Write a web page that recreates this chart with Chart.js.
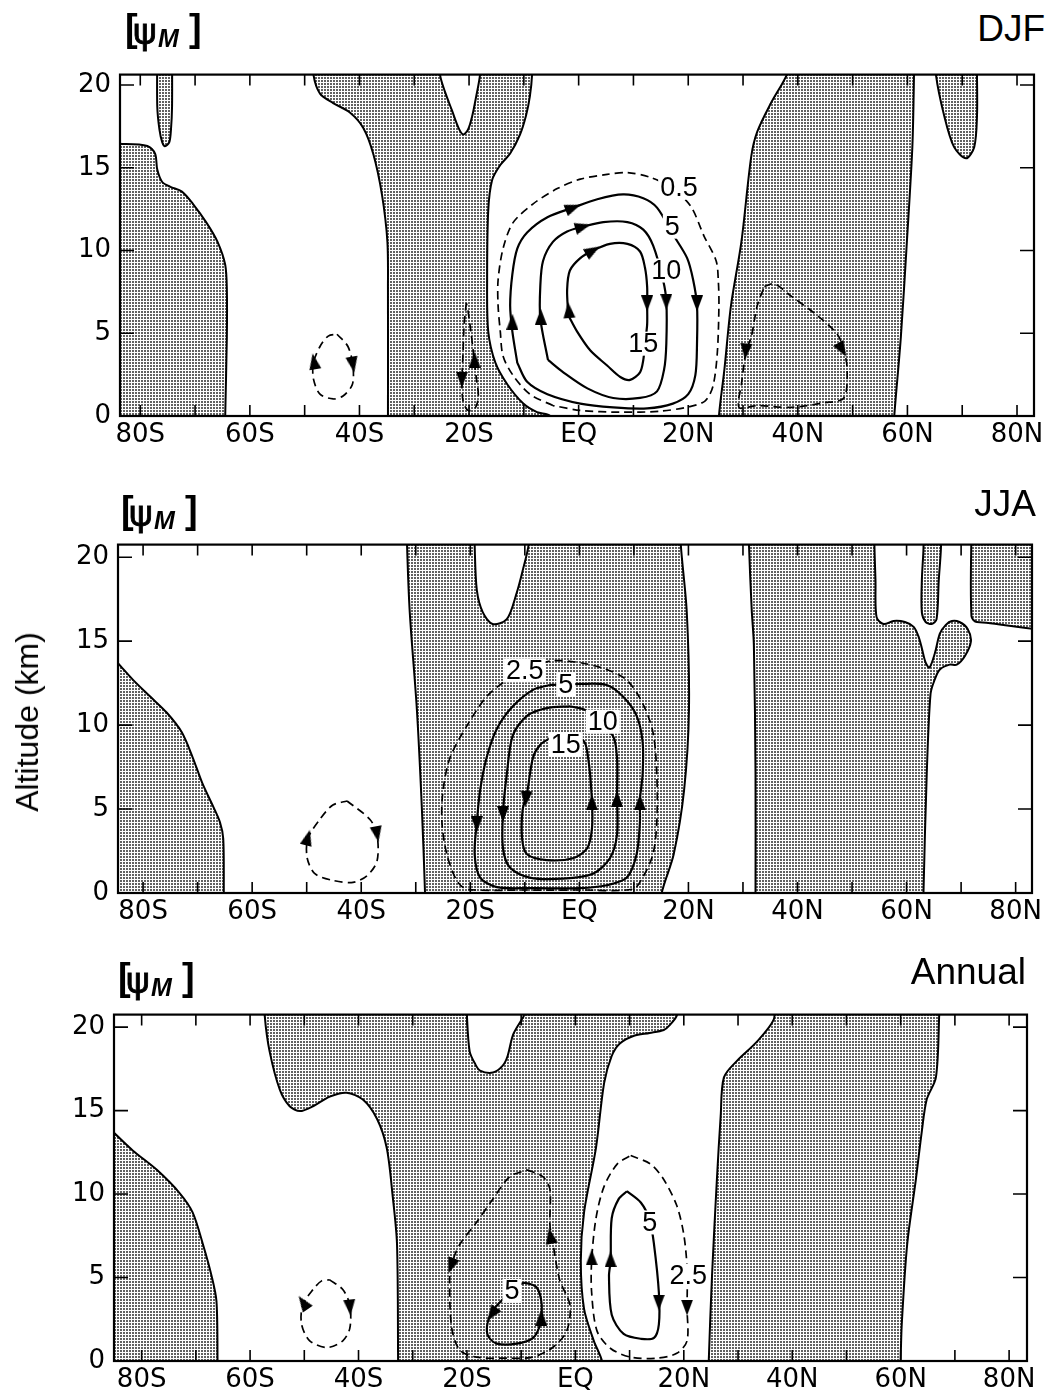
<!DOCTYPE html>
<html><head><meta charset="utf-8">
<script src="https://cdn.jsdelivr.net/npm/chart.js@4.4.1/dist/chart.umd.min.js"></script>
<style>
html,body{margin:0;padding:0;background:#fff;}
body{width:1048px;height:1400px;position:relative;overflow:hidden;font-family:"Liberation Sans",Arial,sans-serif;color:#000;}
canvas{position:absolute;left:0;}
.psi{position:absolute;height:40px;width:80px;z-index:2;}
.psi span{position:absolute;white-space:nowrap;}
.psi .lb{left:0;top:-2px;font-size:38px;line-height:38px;font-weight:bold;}
.psi .g{left:8px;top:3px;font-family:"DejaVu Sans",sans-serif;font-size:36px;line-height:36px;-webkit-text-stroke:0.8px #000;}
.psi .m{left:33px;top:15px;font-size:25px;line-height:25px;font-style:italic;font-weight:bold;}
.psi .rb{left:64px;top:-2px;font-size:38px;line-height:38px;font-weight:bold;}
.ttl{position:absolute;font-size:37px;line-height:37px;white-space:nowrap;z-index:2;}
.ylab{position:absolute;left:27px;top:722px;font-size:32px;line-height:32px;white-space:nowrap;transform:translate(-50%,-50%) rotate(-90deg);z-index:2;}
</style></head>
<body>
<canvas id="c1" width="1048" height="410" style="top:50px"></canvas>
<canvas id="c2" width="1048" height="420" style="top:520px"></canvas>
<canvas id="c3" width="1048" height="410" style="top:990px"></canvas>
<div class="psi" style="left:125px;top:11px"><span class="lb">[</span><span class="g">ψ</span><span class="m">M</span><span class="rb">]</span></div>
<div class="psi" style="left:121px;top:493px"><span class="lb">[</span><span class="g">ψ</span><span class="m">M</span><span class="rb">]</span></div>
<div class="psi" style="left:118px;top:960px"><span class="lb">[</span><span class="g">ψ</span><span class="m">M</span><span class="rb">]</span></div>
<div class="ttl" style="right:3px;top:10px">DJF</div>
<div class="ttl" style="right:12px;top:485px">JJA</div>
<div class="ttl" style="right:22px;top:953px">Annual</div>
<div class="ylab">Altitude (km)</div>
<script>
// ---------- axis ticks ----------
const xTickValues = [-80,-70,-60,-50,-40,-30,-20,-10,0,10,20,30,40,50,60,70,80];
const xTickLabels = ['80S','','60S','','40S','','20S','','EQ','','20N','','40N','','60N','','80N'];
const yTickValues = [0,5,10,15,20];
const yTickLabels = ['0','5','10','15','20'];

// ---------- DJF ----------
const djfShade1 = [[-95,-1],[-95,16.44],[-83.3,16.44],[-78.7,16.32],[-77.3,15.86],[-76.9,14.89],[-76.0,14.14],[-74.5,13.85],[-72.4,13.56],[-70.4,12.82],[-67.9,11.67],[-65.9,10.52],[-64.5,9.14],[-64.2,7.64],[-64.2,4.77],[-64.5,0],[-64.5,-1]];
const djfShade2 = [[-76.9,22],[-76.9,18.7],[-76.5,17.3],[-76.0,16.55],[-75.5,16.3],[-74.7,16.55],[-74.4,17.3],[-74.2,18.7],[-74.2,22]];
const djfShade3 = [[-48.4,22],[-48.4,20.63],[-47.2,19.48],[-44.8,18.91],[-41.7,18.33],[-39.3,17.41],[-37.5,15.86],[-35.9,13.39],[-34.9,10.52],[-34.8,7.64],[-34.8,0],[-34.8,-1],[-5.2,-1],[-5.2,0],[-7.6,0.23],[-10.1,0.75],[-13.0,1.90],[-15.2,3.22],[-16.5,5.11],[-16.7,8.22],[-16.5,12.41],[-15.8,14.25],[-14.3,15.17],[-12.5,15.86],[-10.7,17.01],[-9.6,18.16],[-8.9,19.31],[-8.5,20.63],[-8.5,22],[-18.0,22],[-18.0,20.63],[-18.7,19.31],[-19.4,18.16],[-20.2,17.30],[-21.1,17.01],[-22.0,17.47],[-23.1,18.45],[-24.4,19.60],[-25.3,20.63],[-25.3,22]];
const djfShade4 = [[25.6,-1],[25.6,0],[26.6,2.82],[27.8,6.67],[29.7,10.52],[31.5,15.69],[32.6,17.18],[35.1,18.91],[38.0,20.63],[39.0,22],[61.2,22],[61.2,20.63],[60.9,16.26],[59.9,10.52],[58.8,4.77],[57.6,0],[57.5,-1]];
const djfShade5 = [[65.2,22],[65.2,20.63],[66.7,18.16],[68.5,16.26],[70.7,15.57],[72.2,16.26],[72.7,18.16],[72.7,20.63],[72.7,22]];
const djfSolid5 = [[-11.2,3.22],[-12.1,5.11],[-12.5,6.67],[-12.1,8.56],[-11.2,10.11],[-9.4,11.09],[-5.7,12.01],[-1.0,12.59],[3.4,13.10],[8.1,13.39],[11.8,13.16],[14.3,12.59],[17.2,10.98],[19.8,9.54],[20.9,8.22],[21.6,6.67],[21.6,4.37],[21.3,2.47],[20.0,1.32],[17.2,0.75],[12.5,0.46],[6.3,0.52],[0.3,0.75],[-5.7,1.32],[-9.4,2.07],[-11.2,3.22]];
const djfSolid10 = [[-5.6,3.39],[-7.0,5.92],[-7.0,7.82],[-6.5,9.37],[-4.7,10.52],[-2.1,11.15],[0.8,11.44],[4.5,11.72],[8.9,11.72],[11.8,11.26],[13.6,10.29],[15.4,8.22],[16.0,6.95],[16.0,4.37],[15.6,2.82],[14.3,1.49],[11.2,1.09],[6.3,1.09],[1.6,1.67],[-2.8,2.64],[-5.6,3.39]];
const djfSolid15 = [[-1.9,6.09],[-2.1,7.64],[-1.6,8.79],[0.3,9.54],[2.6,10.00],[5.7,10.40],[8.9,10.40],[11.2,9.94],[12.1,8.97],[12.5,7.82],[12.5,6.67],[12.5,5.52],[12.1,4.37],[11.8,3.39],[11.2,2.64],[9.4,2.18],[7.6,2.36],[5.2,3.05],[2.1,3.97],[-0.3,5.11],[-1.9,6.09]];
const djfDash05 = [[-4.7,0.63],[-8.9,1.32],[-12.0,2.47],[-13.8,3.62],[-14.3,5.11],[-14.7,6.67],[-14.7,8.22],[-13.8,10.11],[-12.0,11.67],[-8.3,12.82],[-3.9,13.74],[0.3,14.31],[5.2,14.60],[8.9,14.71],[13.0,14.43],[16.7,13.85],[20.4,12.70],[22.9,10.86],[25.1,9.37],[25.5,8.10],[25.6,6.67],[25.3,3.79],[24.5,1.78],[23.1,0.92],[20.3,0.57],[14.9,0.29],[7.6,0.23],[0.3,0.34],[-4.7,0.63]];
const djfDash44S = [[-44.1,4.94],[-42.1,4.20],[-41.2,3.05],[-41.3,1.90],[-43.0,1.21],[-44.8,1.03],[-47.2,1.32],[-48.4,2.24],[-48.4,3.22],[-47.2,4.20],[-45.7,4.83],[-44.1,4.94]];
const djfDash20S = [[-20.5,6.84],[-20.9,5.52],[-21.1,3.79],[-21.3,2.07],[-21.1,0.92],[-20.2,0.34],[-18.9,0.46],[-18.3,1.21],[-18.7,2.36],[-19.1,3.51],[-19.6,4.94],[-20.2,6.38],[-20.5,6.84]];
const djfDash40N = [[33.9,7.82],[35.7,7.99],[38.8,7.24],[43.5,6.09],[47.2,4.94],[48.4,3.97],[49.0,2.82],[48.4,1.09],[44.8,0.80],[38.8,0.52],[32.6,0.63],[29.3,0.52],[29.7,1.90],[30.6,3.97],[31.5,4.77],[32.6,6.67],[33.9,7.82]];
const djfArrows = [[-12.1,5.7],[-1.0,12.59],[21.6,6.8],[-6.9,6.0],[0.8,11.44],[16.0,6.9],[-1.8,6.4],[2.6,10.0],[12.5,6.8],[-48.3,3.3],[-41.2,3.1],[-21.3,2.2],[-19.0,3.4],[30.5,3.9],[48.1,4.0]];
const djfArrowAngle = [0,69,180,0,74,180,-5,60,180,-10,170,180,0,185,150];
const djfLabelText = ['0.5','5','10','15'];
const djfLabelPos = [[18.3,13.8],[17.1,11.44],[16.0,8.79],[11.8,4.37]];

// ---------- JJA ----------
const jjaShade1 = [[-95,-1],[-95,17.4],[-84.2,13.54],[-81.8,12.68],[-78.7,11.70],[-75.6,10.72],[-72.9,9.57],[-70.9,8.07],[-69.1,6.51],[-67.2,5.19],[-65.9,4.21],[-65.3,3.23],[-65.2,0],[-65.2,-1]];
const jjaShade2 = [[-31.6,22],[-31.6,20.75],[-31.1,16.71],[-29.8,10.95],[-28.9,5.19],[-28.3,0],[-28.3,-1],[15.1,-1],[15.1,0],[17.3,2.31],[19.2,6.11],[20.1,10.95],[19.7,16.71],[18.6,20.75],[18.6,22],[-9.3,22],[-9.3,20.75],[-10.4,19.2],[-11.5,17.87],[-13.3,16.31],[-15.9,16.02],[-17.7,16.71],[-18.8,18.04],[-19.2,20.75],[-19.2,22]];
const jjaShade3 = [[31.1,22],[31.1,20.75],[31.6,16.89],[32.0,14.76],[32.3,7.09],[32.3,0],[32.3,-1],[63.1,-1],[63.1,0],[63.7,7.09],[64.4,11.87],[65.2,12.74],[66.1,13.31],[67.9,13.60],[69.2,13.60],[70.7,14.12],[71.8,14.99],[71.2,15.73],[69.7,16.14],[68.3,16.20],[67.2,15.97],[66.1,15.45],[65.2,14.29],[64.2,13.43],[63.5,13.72],[62.8,14.58],[62.2,15.27],[61.3,15.85],[59.7,16.14],[57.6,16.20],[55.8,16.02],[54.5,16.43],[54.3,18.62],[54.1,20.75],[54.1,22]];
const jjaShade4 = [[63.1,22],[63.1,20.52],[62.8,18.62],[62.8,16.71],[63.5,16.14],[64.6,16.02],[65.5,16.31],[65.9,18.62],[66.3,20.52],[66.3,22]];
const jjaShade5 = [[71.9,22],[71.9,16.48],[72.9,16.14],[95,16.0],[95,22]];
const jjaSolid5 = [[-5.4,12.39],[0.1,12.45],[5.0,12.39],[8.0,11.70],[10.5,10.55],[11.6,8.99],[11.6,7.09],[11.1,5.53],[11.1,4.21],[10.5,2.31],[8.7,0.92],[5.0,0.46],[0.1,0.29],[-9.1,0.29],[-15.1,0.35],[-18.2,0.92],[-19.2,2.31],[-18.8,4.21],[-18.2,6.11],[-17.0,8.07],[-15.1,9.80],[-12.2,11.12],[-8.5,12.10],[-5.4,12.39]];
const jjaSolid10 = [[-1.7,11.12],[1.4,10.84],[6.1,9.39],[6.9,8.07],[6.9,5.76],[6.9,3.46],[5.6,2.07],[2.5,1.15],[-3.0,0.86],[-9.1,0.92],[-12.7,1.50],[-14.0,2.65],[-14.0,4.78],[-13.3,7.09],[-12.2,9.39],[-9.6,10.55],[-6.0,11.01],[-1.7,11.12]];
const jjaSolid15 = [[-5.4,9.22],[0.6,9.11],[1.6,8.07],[2.3,5.53],[2.3,3.80],[1.4,2.65],[-1.2,2.07],[-6.0,1.96],[-9.6,2.31],[-10.5,3.23],[-10.4,4.96],[-9.6,5.94],[-8.5,8.07],[-7.2,8.82],[-5.4,9.22]];
const jjaDash25 = [[-9.1,13.43],[-4.9,13.83],[0.1,13.72],[5.0,13.31],[8.7,12.68],[11.6,11.30],[13.5,9.57],[14.2,7.09],[14.2,4.21],[13.5,2.31],[11.6,0.92],[9.8,0.23],[0.0,0.18],[-10.0,0.18],[-20.6,0.23],[-22.5,0.75],[-24.3,2.31],[-25.2,4.21],[-25.0,6.11],[-23.7,8.07],[-20.6,9.97],[-17.0,11.70],[-13.3,12.68],[-9.1,13.43]];
const jjaDash40S = [[-42.6,5.48],[-38.4,4.38],[-37.1,3.46],[-37.1,1.90],[-38.9,1.04],[-41.5,0.63],[-45.2,0.75],[-48.5,1.15],[-49.9,2.07],[-49.8,3.23],[-47.6,4.38],[-45.2,5.24],[-42.6,5.48]];
const jjaArrows = [[-18.8,4.1],[11.1,5.4],[-14.0,4.7],[6.9,5.6],[-9.8,5.6],[2.3,5.4],[-49.8,3.3],[-37.1,3.5]];
const jjaArrowAngle = [180,0,180,0,185,0,15,170];
const jjaLabelText = ['2.5','5','10','15'];
const jjaLabelPos = [[-10.0,13.26],[-2.5,12.39],[4.3,10.2],[-2.5,8.82]];

// ---------- Annual ----------
const annShade1 = [[-95,-1],[-95,16.7],[-85.0,13.64],[-81.6,12.60],[-77.2,11.45],[-73.0,10.06],[-70.6,8.90],[-68.7,6.99],[-67.1,5.09],[-66.2,3.58],[-66.0,0],[-66.0,-1]];
const annShade2 = [[-57.3,22],[-57.3,20.69],[-56.4,18.55],[-54.5,16.24],[-52.7,15.26],[-50.8,14.97],[-48.4,15.26],[-45.3,15.84],[-42.2,16.07],[-39.2,15.66],[-36.6,14.51],[-34.8,12.77],[-33.7,9.88],[-32.9,6.99],[-32.7,0],[-32.7,-1],[4.9,-1],[4.9,0],[3.4,1.21],[1.6,3.12],[1.0,6.01],[1.6,8.90],[3.8,12.77],[5.3,16.65],[6.7,18.27],[8.2,19.02],[10.8,19.48],[13.7,19.65],[16.3,19.83],[17.4,20.12],[18.7,20.69],[19.5,22],[-9.5,22],[-9.5,20.69],[-9.9,20.46],[-11.5,19.54],[-12.5,18.27],[-13.4,17.69],[-15.2,17.28],[-17.6,17.40],[-18.5,17.80],[-19.5,18.55],[-20.0,20.69],[-20.0,22]];
const annShade3 = [[24.6,-1],[24.6,0],[25.2,5.09],[26.1,10.87],[26.8,14.68],[27.4,16.99],[29.8,17.98],[33.5,19.13],[36.6,20.46],[37.3,22],[67.1,22],[67.1,20.69],[66.5,16.99],[64.8,15.66],[63.9,13.76],[62.8,10.87],[61.2,6.99],[60.2,2.20],[60.0,0],[60.0,-1]];
const annSolid5N = [[9.5,10.17],[12.1,9.48],[13.7,8.44],[14.5,6.99],[15.4,4.10],[15.4,2.20],[14.5,1.39],[12.1,1.33],[8.9,1.62],[6.7,2.77],[6.2,5.09],[6.5,6.01],[6.7,8.55],[8.0,9.71],[9.5,10.17]];
const annSolid5S = [[-13.0,3.82],[-14.7,3.24],[-15.8,2.66],[-16.3,2.08],[-16.1,1.50],[-14.5,1.04],[-10.8,1.04],[-7.8,1.39],[-6.5,2.20],[-6.2,3.35],[-7.1,4.39],[-9.3,4.68],[-10.4,4.57]];
const annDash25N = [[10.2,12.31],[13.9,11.79],[16.3,10.87],[18.7,9.31],[20.0,7.57],[20.6,5.55],[20.6,3.12],[20.6,1.21],[18.7,0.46],[15.0,0.17],[10.2,0.23],[6.5,0.75],[4.0,1.79],[3.0,4.10],[3.0,6.01],[3.8,8.55],[5.3,10.46],[7.7,11.79],[10.2,12.31]];
const annDashS = [[-8.9,11.45],[-6.0,11.04],[-4.7,10.29],[-4.7,8.15],[-4.2,7.17],[-2.9,4.86],[-1.0,3.35],[-1.6,1.79],[-4.2,0.81],[-7.9,0.23],[-12.6,0.17],[-18.2,0.23],[-21.3,0.64],[-22.8,1.97],[-23.2,4.86],[-22.8,5.84],[-21.3,6.99],[-18.2,8.32],[-15.2,9.71],[-12.1,11.04],[-8.9,11.45]];
const annDash40S = [[-45.3,4.86],[-42.9,4.28],[-41.6,3.35],[-41.6,1.97],[-42.9,1.21],[-45.8,0.81],[-49.0,1.21],[-50.5,2.20],[-50.3,3.35],[-48.4,4.28],[-46.8,4.80],[-45.3,4.86]];
const annArrows = [[3.0,6.2],[20.6,3.2],[6.5,6.1],[15.4,3.5],[-22.9,5.7],[-4.6,7.5],[-15.4,2.8],[-6.3,2.6],[-50.2,3.5],[-41.6,3.2]];
const annArrowAngle = [0,180,0,180,200,-10,215,0,-35,175];
const annLabelText = ['5','2.5','5'];
const annLabelPos = [[13.7,8.3],[20.8,5.1],[-11.7,4.2]];

// ---------- helpers ----------
const FONT = '"Liberation Sans", Arial, sans-serif';
const TICKFONT = '"DejaVu Sans", "Liberation Sans", sans-serif';
function toXY(arr){ return arr.map(p => ({x:p[0], y:p[1]})); }

function makeStipple(){
  const c = document.createElement('canvas'); c.width = 3; c.height = 3;
  const g = c.getContext('2d');
  g.fillStyle = '#ffffff'; g.fillRect(0,0,3,3);
  g.fillStyle = '#626262'; g.fillRect(0,0,2,2);
  return g.createPattern(c, 'repeat');
}
function makeArrowHead(){
  const c = document.createElement('canvas'); c.width = 12; c.height = 16;
  const g = c.getContext('2d');
  g.fillStyle = '#000';
  g.beginPath(); g.moveTo(6,0); g.lineTo(12,16); g.lineTo(0,16); g.closePath(); g.fill();
  return c;
}

const frameTicks = {
  id: 'frameTicks',
  afterDatasetsDraw(chart){
    const {ctx, chartArea:a, scales:{x, y}} = chart;
    const TL = 11;
    ctx.save();
    ctx.strokeStyle = '#000';
    ctx.lineWidth = 1.6;
    ctx.beginPath();
    xTickValues.forEach(v => {
      const px = x.getPixelForValue(v);
      ctx.moveTo(px, a.bottom); ctx.lineTo(px, a.bottom - TL);
      ctx.moveTo(px, a.top); ctx.lineTo(px, a.top + TL);
    });
    yTickValues.forEach(v => {
      const py = y.getPixelForValue(v);
      ctx.moveTo(a.left, py); ctx.lineTo(a.left + TL + 3, py);
      ctx.moveTo(a.right, py); ctx.lineTo(a.right - TL - 3, py);
    });
    ctx.stroke();
    ctx.lineWidth = 2.2;
    ctx.strokeRect(a.left, a.top, a.right - a.left, a.bottom - a.top);
    ctx.restore();
  }
};

const contourLabels = {
  id: 'contourLabels',
  afterDatasetsDraw(chart, args, opts){
    const {ctx, scales:{x, y}} = chart;
    ctx.save();
    ctx.font = '27px ' + FONT;
    ctx.textAlign = 'center';
    ctx.textBaseline = 'middle';
    (opts.text || []).forEach((t, i) => {
      const px = x.getPixelForValue(opts.pos[i][0]);
      const py = y.getPixelForValue(opts.pos[i][1]);
      const w = ctx.measureText(t).width;
      ctx.fillStyle = '#fff';
      ctx.fillRect(px - w/2 - 2, py - 12, w + 4, 24);
      ctx.fillStyle = '#000';
      ctx.fillText(t, px, py + 1);
    });
    ctx.restore();
  }
};

function makePanel(id, cfg){
  const canvas = document.getElementById(id);
  const stipple = makeStipple();
  const head = makeArrowHead();
  const datasets = [];
  cfg.shades.forEach(poly => datasets.push({
    data: toXY(poly), showLine: true, fill: 'shape', backgroundColor: stipple,
    borderColor: '#000', borderWidth: 2, pointRadius: 0, tension: 0.3, order: 3
  }));
  cfg.solids.forEach(line => datasets.push({
    data: toXY(line), showLine: true, fill: false, borderColor: '#000',
    borderWidth: 2.2, pointRadius: 0, tension: 0.3, order: 2
  }));
  cfg.dashes.forEach(line => datasets.push({
    data: toXY(line), showLine: true, fill: false, borderColor: '#000',
    borderWidth: 1.7, borderDash: [8,5], pointRadius: 0, tension: 0.3, order: 2
  }));
  datasets.push({
    data: toXY(cfg.arrows), showLine: false, pointStyle: head,
    pointRadius: 7, pointRotation: cfg.arrowAngle, order: 1
  });
  const canvasTop = cfg.canvasTop, canvasBottom = cfg.canvasTop + canvas.height;
  new Chart(canvas.getContext('2d'), {
    type: 'scatter',
    data: { datasets },
    options: {
      responsive: false, animation: false, events: [],
      devicePixelRatio: 1,
      elements: { line: { capBezierPoints: false } },
      layout: { padding: { left: 0, right: 1048 - cfg.right, top: cfg.top - canvasTop, bottom: 0 } },
      plugins: {
        legend: { display: false }, tooltip: { enabled: false },
        contourLabels: { text: cfg.labelText, pos: cfg.labelPos }
      },
      scales: {
        x: {
          type: 'linear', min: cfg.xmin, max: cfg.xmax,
          grid: { display: false, drawTicks: false }, border: { display: false },
          afterBuildTicks: s => { s.ticks = xTickValues.map(v => ({ value: v })); },
          afterFit: s => { s.height = canvasBottom - cfg.bottom; },
          ticks: {
            autoSkip: false, maxRotation: 0, padding: 4, color: '#000',
            font: { family: TICKFONT, size: 26 },
            callback: v => { const i = xTickValues.indexOf(v); return i >= 0 ? xTickLabels[i] : ''; }
          }
        },
        y: {
          type: 'linear', min: 0, max: cfg.ymax,
          grid: { display: false, drawTicks: false }, border: { display: false },
          afterBuildTicks: s => { s.ticks = yTickValues.map(v => ({ value: v })); },
          afterFit: s => { s.width = cfg.left; },
          ticks: {
            padding: 9, color: '#000', font: { family: TICKFONT, size: 26 },
            callback: v => { const i = yTickValues.indexOf(v); return i >= 0 ? yTickLabels[i] : ''; }
          }
        }
      }
    },
    plugins: [frameTicks, contourLabels]
  });
}

makePanel('c1', {
  canvasTop: 50, top: 57, bottom: 416, left: 120, right: 1034,
  xmin: -83.7, xmax: 83.1, ymax: 20.63,
  shades: [djfShade1, djfShade2, djfShade3, djfShade4, djfShade5],
  solids: [djfSolid5, djfSolid10, djfSolid15],
  dashes: [djfDash05, djfDash44S, djfDash20S, djfDash40N],
  arrows: djfArrows, arrowAngle: djfArrowAngle,
  labelText: djfLabelText, labelPos: djfLabelPos
});
makePanel('c2', {
  canvasTop: 520, top: 533, bottom: 893, left: 118, right: 1032,
  xmin: -84.6, xmax: 83.0, ymax: 20.75,
  shades: [jjaShade1, jjaShade2, jjaShade3, jjaShade4, jjaShade5],
  solids: [jjaSolid5, jjaSolid10, jjaSolid15],
  dashes: [jjaDash25, jjaDash40S],
  arrows: jjaArrows, arrowAngle: jjaArrowAngle,
  labelText: jjaLabelText, labelPos: jjaLabelPos
});
makePanel('c3', {
  canvasTop: 990, top: 1002, bottom: 1361, left: 114, right: 1027,
  xmin: -85.1, xmax: 83.3, ymax: 20.75,
  shades: [annShade1, annShade2, annShade3],
  solids: [annSolid5N, annSolid5S],
  dashes: [annDash25N, annDashS, annDash40S],
  arrows: annArrows, arrowAngle: annArrowAngle,
  labelText: annLabelText, labelPos: annLabelPos
});
</script>
</body></html>
